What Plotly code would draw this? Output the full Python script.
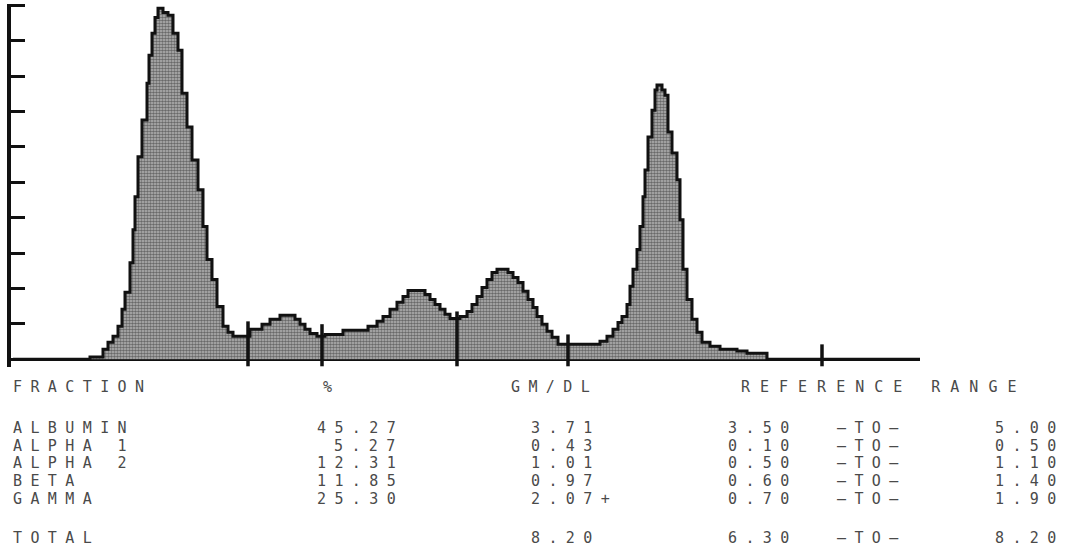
import plotly.graph_objects as go

# Densitometer scan of the electrophoresis strip: step trace
# scan position (densitometer steps) and optical density (axis units)
scan_pos = [0, 77, 90, 95, 100, 105, 109, 112, 117, 120, 122, 125, 129, 134, 136, 139, 142, 145,
            150, 155, 160, 165, 169, 174, 179, 185, 190, 194, 199, 204, 210, 215, 220,
            237, 249, 257, 267, 282, 287, 292, 297, 304, 312, 330, 355, 364, 370, 377, 384,
            390, 395, 412, 417, 422, 427, 432, 437, 447, 454, 459, 464, 469, 474, 479, 484,
            495, 500, 505, 510, 515, 520, 524, 529, 534, 539, 545, 587, 594, 600, 605, 609,
            614, 617, 620, 624, 627, 630, 632, 635, 639, 642, 644, 649, 652, 655, 659, 664,
            667, 670, 674, 679, 684, 689, 697, 707, 724, 734, 754, 907]
density = [0.00, 0.06, 0.28, 0.48, 0.65, 0.93, 1.41, 1.89, 2.73, 3.66, 4.59, 5.72, 6.76, 7.80, 8.59, 9.21, 9.66, 9.92,
           9.80, 9.72, 9.21, 8.73, 7.52, 6.56, 5.63, 4.79, 3.75, 2.82, 2.25, 1.49, 0.93, 0.76, 0.65,
           0.85, 0.99, 1.13, 1.24, 1.13, 0.99, 0.85, 0.73, 0.65, 0.70, 0.82, 0.93, 1.07, 1.21, 1.41, 1.61,
           1.77, 1.94, 1.83, 1.69, 1.55, 1.41, 1.27, 1.15, 1.21, 1.35, 1.55, 1.77, 2.03, 2.25, 2.45, 2.54,
           2.45, 2.31, 2.17, 1.92, 1.69, 1.46, 1.21, 0.99, 0.79, 0.62, 0.42, 0.51, 0.65, 0.85, 1.04, 1.21,
           1.55, 2.06, 2.54, 3.10, 3.75, 4.59, 5.35, 6.28, 7.04, 7.61, 7.75, 7.61, 7.46, 6.42, 5.83, 5.07,
           3.94, 2.54, 1.69, 1.13, 0.76, 0.48, 0.37, 0.28, 0.23, 0.17, 0.00, 0.00]

# Fraction boundary marks: scan position and height of the mark's top
divider_pos = [235, 309, 444, 555, 809]
divider_top = [1.07, 0.99, 1.35, 0.70, 0.42]

# Result table
fractions = ["ALBUMIN", "ALPHA 1", "ALPHA 2", "BETA", "GAMMA"]
percent = ["45.27", "5.27", "12.31", "11.85", "25.30"]
gm_dl = ["3.71", "0.43", "1.01", "0.97", "2.07+"]
ref_low = ["3.50", "0.10", "0.50", "0.60", "0.70"]
ref_high = ["5.00", "0.50", "1.10", "1.40", "1.90"]
total_label = "TOTAL"
total_gm = "8.20"
total_low = "6.30"
total_high = "8.20"
headers = ["FRACTION", "%", "GM/DL", "REFERENCE RANGE"]
range_word = "–TO–"

W, H = 1072, 550
L, R, T, B = 11, 152, 4, 183
plot_w = W - L - R
plot_h = H - T - B

fig = go.Figure()

fig.add_trace(go.Scatter(
    x=scan_pos, y=density, mode="lines", line_shape="hv",
    line=dict(color="#111", width=3),
    fill="tozeroy", fillcolor="#909090",
    fillpattern=dict(shape=".", fgcolor="#1a1a1a", bgcolor="#b8b8b8", size=3, solidity=0.6),
    hoverinfo="skip", showlegend=False,
))

dx, dy = [], []
for p, t in zip(divider_pos, divider_top):
    dx += [p, p, None]
    dy += [-0.2, t, None]
fig.add_trace(go.Scatter(x=dx, y=dy, mode="lines", line=dict(color="#111", width=3.5),
                         hoverinfo="skip", showlegend=False))

FONT = "DejaVu Sans Mono"
FONT_SIZE = 15


def px_x(px):
    return (px - L) / plot_w


def px_y(py):
    return (H - B - py) / plot_h


def label(text, px, py, anchor="left", spacing=8.4):
    fig.add_annotation(
        text=f'<span style="letter-spacing:{spacing}px">{text}</span>',
        x=px_x(px), y=px_y(py), xref="paper", yref="paper",
        xanchor=anchor, yanchor="middle", showarrow=False, borderpad=0,
        font=dict(family=FONT, size=FONT_SIZE, color="#4a4a4a"),
    )


# header row
label(headers[0], 12, 387)
label(headers[1], 322, 387)
label(headers[2], 510, 387)
label(headers[3], 740, 387, spacing=10.0)

row_y = [428, 446, 463, 481, 499]
for i, y in enumerate(row_y):
    label(fractions[i], 12, y)
    label(percent[i], 405, y, anchor="right")
    label(gm_dl[i], 530, y)
    label(ref_low[i], 727, y)
    label(range_word, 836, y)
    label(ref_high[i], 1066, y, anchor="right")

label(total_label, 12, 538)
label(total_gm, 530, 538)
label(total_low, 727, 538)
label(range_word, 836, 538)
label(total_high, 1066, 538, anchor="right")

fig.update_layout(
    width=W, height=H,
    margin=dict(l=L, r=R, t=T, b=B, pad=0),
    paper_bgcolor="white", plot_bgcolor="white",
    xaxis=dict(range=[-2, 907], showgrid=False, zeroline=False, showline=False,
               showticklabels=False, ticks=""),
    yaxis=dict(range=[-0.22, 10.04], showgrid=False, zeroline=True, zerolinecolor="#111",
               zerolinewidth=3, showline=True, linecolor="#111", linewidth=3.5,
               ticks="inside", ticklen=14, tickwidth=3, tickcolor="#111",
               tickvals=list(range(1, 11)), showticklabels=False),
)

fig.write_html("out.html")
